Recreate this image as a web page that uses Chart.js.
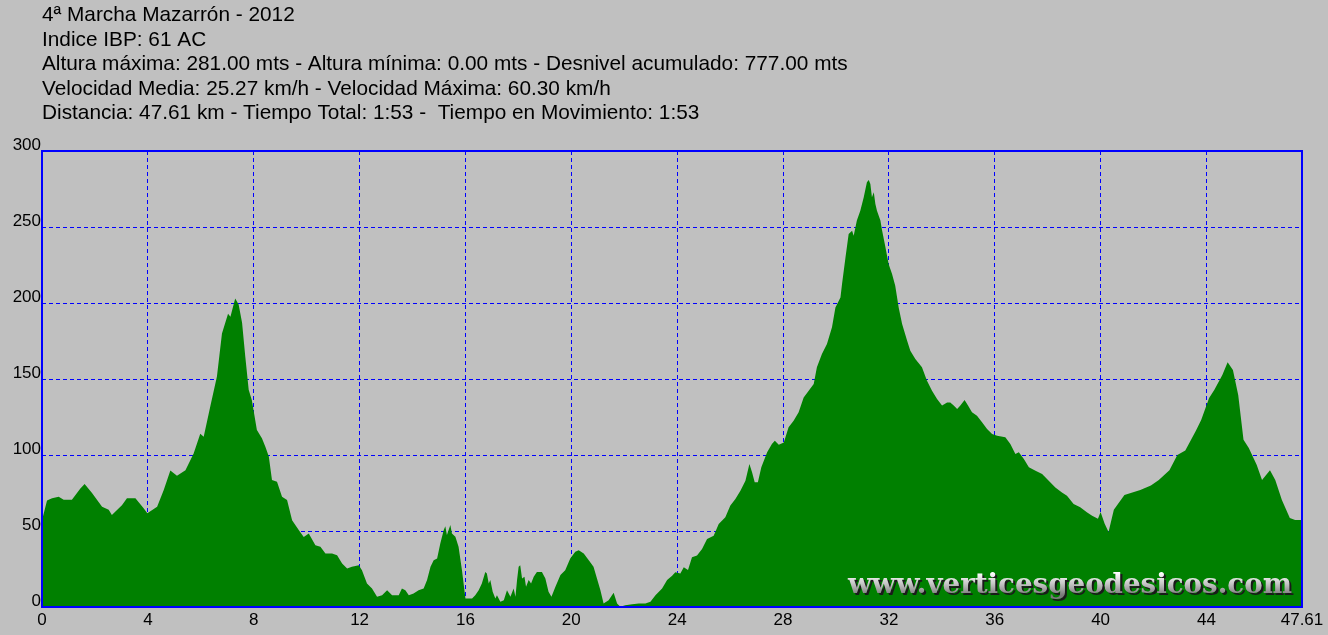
<!DOCTYPE html>
<html><head><meta charset="utf-8">
<script src="https://cdn.jsdelivr.net/npm/chart.js@4.4.0/dist/chart.umd.min.js"></script>
<style>html,body{margin:0;padding:0;background:#c0c0c0;overflow:hidden}canvas{display:block}</style>
</head><body>
<canvas id="c" width="1328" height="635"></canvas>
<script>
const titleLines = [
  '4ª Marcha Mazarrón - 2012',
  'Indice IBP: 61 AC',
  'Altura máxima: 281.00 mts - Altura mínima: 0.00 mts - Desnivel acumulado: 777.00 mts',
  'Velocidad Media: 25.27 km/h - Velocidad Máxima: 60.30 km/h',
  'Distancia: 47.61 km - Tiempo Total: 1:53 -  Tiempo en Movimiento: 1:53'
];
const watermarkText = 'www.verticesgeodesicos.com';
const xTickValues = [0,4,8,12,16,20,24,28,32,36,40,44,47.61];
const yTickValues = [0,50,100,150,200,250,300];

const distKm = [0.00,0.13,0.19,0.38,0.63,0.82,1.13,1.45,1.61,1.89,2.27,2.52,2.64,3.02,3.21,3.53,3.84,3.98,4.35,4.60,4.85,5.10,5.42,5.73,5.98,6.11,6.36,6.61,6.80,7.03,7.12,7.30,7.43,7.56,7.68,7.81,7.93,8.12,8.31,8.44,8.57,8.69,8.88,9.07,9.26,9.45,9.70,9.89,10.08,10.33,10.52,10.71,10.96,11.15,11.34,11.53,11.71,11.97,12.09,12.28,12.47,12.66,12.85,13.04,13.23,13.48,13.60,13.73,13.86,14.04,14.23,14.42,14.55,14.68,14.80,14.93,15.05,15.18,15.24,15.30,15.43,15.49,15.62,15.74,15.87,16.00,16.25,16.37,16.50,16.62,16.75,16.81,16.88,16.94,17.03,17.13,17.19,17.32,17.45,17.57,17.70,17.82,17.89,17.95,18.01,18.07,18.14,18.23,18.29,18.39,18.48,18.58,18.70,18.89,19.02,19.14,19.25,19.40,19.59,19.77,19.96,20.15,20.28,20.47,20.66,20.84,20.97,21.10,21.22,21.41,21.60,21.73,21.85,22.04,22.30,22.55,22.80,22.99,23.18,23.43,23.62,23.81,23.93,24.12,24.25,24.41,24.56,24.75,24.94,25.13,25.38,25.57,25.82,26.01,26.20,26.39,26.58,26.73,26.83,26.93,27.05,27.18,27.40,27.58,27.69,27.84,28.03,28.21,28.40,28.59,28.78,28.97,29.16,29.28,29.47,29.66,29.85,29.98,30.17,30.23,30.36,30.48,30.61,30.67,30.79,30.92,31.05,31.17,31.24,31.30,31.36,31.43,31.49,31.55,31.68,31.74,31.87,31.99,32.12,32.24,32.37,32.50,32.69,32.81,33.00,33.25,33.44,33.63,33.82,34.01,34.20,34.32,34.45,34.58,34.70,34.86,34.99,35.14,35.33,35.52,35.71,35.90,36.09,36.40,36.59,36.78,36.91,37.10,37.29,37.54,37.79,38.04,38.29,38.54,38.73,38.98,39.23,39.48,39.68,39.90,40.00,40.15,40.30,40.50,40.90,41.50,41.90,42.20,42.60,42.90,43.20,43.60,43.80,44.10,44.30,44.60,44.80,45.00,45.20,45.40,45.60,45.90,46.10,46.40,46.60,46.85,47.15,47.35,47.61];
const elevM = [57,66,70,71.5,72.6,70.5,70.5,78,81,75,66,64,60.6,67,71.5,71.5,65,61.7,66,77,89.8,86.3,90,101,114,112,132,151.7,180,193,191,203,199,187,165,143,136,116.5,111,105.5,99,83.5,82.4,72.6,70.4,57,50.6,46,48.4,40.7,39.6,35.2,35.2,34.1,28.6,25.3,26.4,27.5,24.2,15.5,12.2,6.7,7.8,11,7.8,7.8,12.2,11,7.8,8.9,11,12.2,17.7,26.4,30.8,31.9,41.8,50.6,53.2,47.3,53.9,48.4,46.2,39.6,24,5.6,5.6,7.8,11,15.5,23.1,22,15.5,17.7,10,5.6,7.8,3.4,4.5,11,6.7,12.2,6.7,17.7,26.4,27.5,18.8,19.9,13.3,17.7,15.5,19.9,23.1,23.1,18.8,10,6.7,13.3,21,24.2,31.9,36.3,37.4,35.2,30.8,26.4,18.8,11,2.3,4.5,9.3,2.3,0.2,1.2,1.8,2.3,2.3,3.4,7.8,12.2,17.7,20.6,22.8,22.1,26.1,24.3,32.7,33.8,38.2,44.7,46.9,54.6,59,66.7,71,76.5,83.1,94.1,88.6,82,82,91.9,101.8,107.2,109.4,106.8,108.3,118.2,122.6,128.1,137.9,142.3,146.7,157.7,166.4,173,184,197.1,203.7,212.5,230,245.4,247.6,244.3,254.2,260.7,269.5,279.4,281,278.3,269.5,272.8,265.1,260.7,254.2,248,236.6,225.7,219.1,211.4,197.1,186.2,175.2,168.6,163.2,157.7,148.9,142.3,136.8,132.5,134.6,134.6,132.5,130.3,132.5,136.2,132.5,128.1,125.9,121.5,117.1,113.8,112.7,111.6,107.2,100.7,101.8,97.4,91.9,89.7,87.5,83.1,78.7,75.4,73.2,67.8,65.6,62.3,60.1,58,62.5,55,49.3,64,73.7,77,80,83.5,90,100,103,116,123,137.5,143,152.6,161,156,139.5,110,104.6,93.4,83.5,90,83.5,70.4,58.6,57.2,57.2];

const FONT = '"Liberation Sans", Arial, sans-serif';

const decor = {
  id: 'decor',
  beforeDraw(chart) {
    const ctx = chart.ctx;
    ctx.save();
    ctx.fillStyle = '#c0c0c0';
    ctx.fillRect(0, 0, chart.width, chart.height);
    ctx.restore();
  },
  afterDatasetsDraw(chart) {
    const ctx = chart.ctx;
    const a = chart.chartArea;
    ctx.save();
    ctx.font = 'bold 27px "DejaVu Serif", serif';
    const w = ctx.measureText(watermarkText).width;
    const targetW = 444;
    const x0 = a.right - 10 - targetW;
    const base = a.bottom - 14;
    ctx.translate(x0, base);
    ctx.scale(targetW / w, 1);
    ctx.textBaseline = 'alphabetic';
    ctx.fillStyle = '#1a1a1a';
    ctx.fillText(watermarkText, 2, 2);
    const g = ctx.createLinearGradient(0, -20, 0, 2);
    g.addColorStop(0, '#ffffff');
    g.addColorStop(0.5, '#c4c4c4');
    g.addColorStop(1, '#7a7a7a');
    ctx.fillStyle = g;
    ctx.fillText(watermarkText, 0, 0);
    ctx.restore();
  },
  afterDraw(chart) {
    const ctx = chart.ctx;
    const a = chart.chartArea;
    ctx.save();
    ctx.strokeStyle = '#0000ff';
    ctx.lineWidth = 2;
    ctx.strokeRect(a.left, a.top, a.right - a.left, a.bottom - a.top);
    ctx.fillStyle = '#000';
    ctx.font = '20.8px ' + FONT;
    ctx.textBaseline = 'alphabetic';
    ctx.textAlign = 'left';
    titleLines.forEach((t, i) => ctx.fillText(t, 42, 21 + i * 24.5));
    ctx.restore();
  }
};

new Chart(document.getElementById('c'), {
  type: 'line',
  data: {
    datasets: [{
      data: distKm.map((d, i) => ({ x: d, y: elevM[i] })),
      borderWidth: 0,
      borderColor: '#008000',
      backgroundColor: '#008000',
      fill: 'origin',
      pointRadius: 0,
      tension: 0
    }]
  },
  options: {
    responsive: false,
    animation: false,
    devicePixelRatio: 1,
    layout: { padding: { top: 151, right: 26, left: 0, bottom: 0 } },
    plugins: { legend: { display: false }, tooltip: { enabled: false }, title: { display: false } },
    scales: {
      x: {
        type: 'linear', min: 0, max: 47.61, z: 1,
        afterBuildTicks: s => { s.ticks = xTickValues.map(v => ({ value: v })); },
        afterFit: s => { s.height = 28; },
        grid: { color: '#0000ff', lineWidth: 1, drawTicks: false },
        border: { display: false, dash: [4, 3] },
        ticks: {
          color: '#000', padding: 3, maxRotation: 0, autoSkip: false,
          font: { family: FONT, size: 17 },
          callback: v => String(v)
        }
      },
      y: {
        min: 0, max: 300, z: 1,
        afterBuildTicks: s => { s.ticks = yTickValues.map(v => ({ value: v })); },
        afterFit: s => { s.width = 42; },
        grid: { color: '#0000ff', lineWidth: 1, drawTicks: false },
        border: { display: false, dash: [4, 3] },
        ticks: {
          color: '#000', padding: 1, labelOffset: -6,
          font: { family: FONT, size: 17 },
          callback: v => String(v)
        }
      }
    }
  },
  plugins: [decor]
});
</script>
</body></html>
